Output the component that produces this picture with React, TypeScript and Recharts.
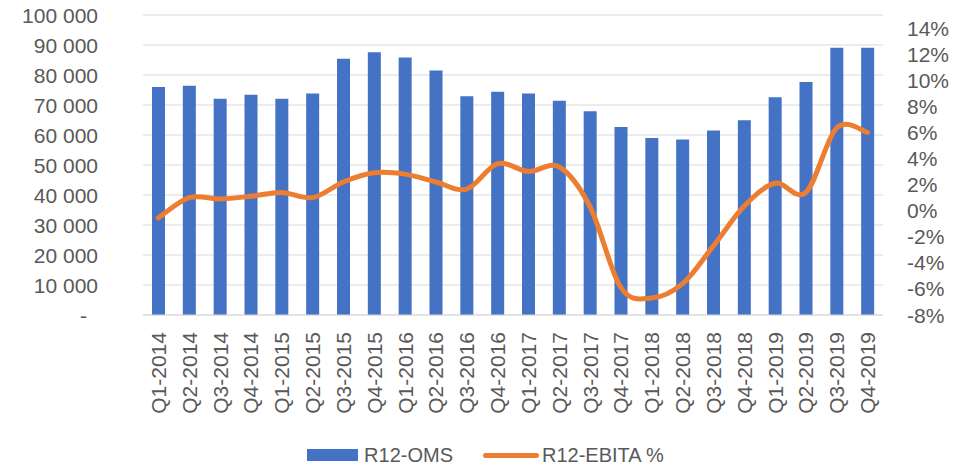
// @ts-nocheck
import { ComposedChart, Bar, Line, XAxis, YAxis, CartesianGrid, Legend } from 'recharts';

const quarters = [
  'Q1-2014', 'Q2-2014', 'Q3-2014', 'Q4-2014',
  'Q1-2015', 'Q2-2015', 'Q3-2015', 'Q4-2015',
  'Q1-2016', 'Q2-2016', 'Q3-2016', 'Q4-2016',
  'Q1-2017', 'Q2-2017', 'Q3-2017', 'Q4-2017',
  'Q1-2018', 'Q2-2018', 'Q3-2018', 'Q4-2018',
  'Q1-2019', 'Q2-2019', 'Q3-2019', 'Q4-2019',
];

// R12-OMS (vänster axel)
const oms = [
  76000, 76400, 72050, 73400,
  72050, 73800, 85400, 87600,
  85800, 81500, 72900, 74400,
  73800, 71400, 67950, 62700,
  59000, 58500, 61500, 64950,
  72600, 77700, 89100, 89100,
];

// R12-EBITA % (höger axel)
const ebita = [
  -0.55, 1.0, 0.9, 1.1,
  1.4, 1.0, 2.2, 2.9,
  2.8, 2.2, 1.65, 3.6,
  3.0, 3.35, 0.3, -5.9,
  -6.7, -5.6, -2.7, 0.35,
  2.1, 1.4, 6.35, 6.0,
];

const leftTicks = [0, 10000, 20000, 30000, 40000, 50000, 60000, 70000, 80000, 90000, 100000];
const rightTicks = [-8, -6, -4, -2, 0, 2, 4, 6, 8, 10, 12, 14];

const data = quarters.map((q, i) => ({ q, oms: oms[i], ebita: ebita[i] }));

const FONT = '"Liberation Sans", Arial, sans-serif';
const TXT = '#595959';
const BLUE = '#4472C4';
const ORANGE = '#ED7D31';

// excel-liknande utjämnad linje (catmull-rom)
function smoothCurve(context) {
  let pts = [];
  return {
    areaStart() {},
    areaEnd() {},
    lineStart() { pts = []; },
    point(x, y) { pts.push([+x, +y]); },
    lineEnd() {
      if (!pts.length) return;
      context.moveTo(pts[0][0], pts[0][1]);
      for (let i = 0; i < pts.length - 1; i++) {
        const p0 = pts[i - 1] || pts[i];
        const p1 = pts[i];
        const p2 = pts[i + 1];
        const p3 = pts[i + 2] || pts[i + 1];
        context.bezierCurveTo(
          p1[0] + (p2[0] - p0[0]) / 6, p1[1] + (p2[1] - p0[1]) / 6,
          p2[0] - (p3[0] - p1[0]) / 6, p2[1] - (p3[1] - p1[1]) / 6,
          p2[0], p2[1]
        );
      }
    },
  };
}

function fmtThousands(v) {
  if (v === 0) return '-';
  return String(v).replace(/\B(?=(\d{3})+(?!\d))/g, ' ');
}

function LeftTick({ x, y, payload }) {
  const isZero = payload.value === 0;
  return (
    <text x={x - 37 - (isZero ? 11 : 0)} y={y} dy="0.36em" textAnchor="end" fill={TXT} fontSize={21} fontFamily={FONT}>
      {fmtThousands(payload.value)}
    </text>
  );
}

function RightTick({ x, y, payload }) {
  return (
    <text x={x + 16} y={y} dy="0.36em" textAnchor="start" fill={TXT} fontSize={21} fontFamily={FONT}>
      {payload.value}%
    </text>
  );
}

function QuarterTick({ x, y, payload }) {
  const ty = y + 9;
  return (
    <text x={x} y={ty} dy="0.36em" textAnchor="end" transform={`rotate(-90, ${x}, ${ty})`} fill={TXT} fontSize={21} fontFamily={FONT}>
      {payload.value}
    </text>
  );
}

function LegendContent() {
  return (
    <div style={{ display: 'flex', justifyContent: 'center', alignItems: 'center', height: 24, paddingLeft: 10, fontFamily: FONT, fontSize: 20, color: TXT }}>
      <span style={{ display: 'inline-block', width: 51, height: 12, background: BLUE, marginRight: 6 }} />
      <span>R12-OMS</span>
      <span style={{ display: 'inline-block', width: 56, height: 5, borderRadius: 3, background: ORANGE, marginLeft: 30, marginRight: 3 }} />
      <span>R12-EBITA %</span>
    </div>
  );
}

export default function App() {
  return (
    <div style={{ position: 'absolute', left: 0, top: 0, background: '#fff' }}>
      <ComposedChart width={961} height={467} data={data} margin={{ top: 15, right: 0, left: 0, bottom: 0 }}>
        <CartesianGrid yAxisId="left" vertical={false} stroke="#D9D9D9" strokeWidth={1} />
        <XAxis
          dataKey="q"
          interval={0}
          height={128}
          tick={<QuarterTick />}
          tickLine={false}
          axisLine={{ stroke: '#D9D9D9', strokeWidth: 1 }}
        />
        <YAxis
          yAxisId="left"
          width={143}
          domain={[0, 100000]}
          ticks={leftTicks}
          tick={<LeftTick />}
          axisLine={false}
          tickLine={false}
        />
        <YAxis
          yAxisId="right"
          orientation="right"
          width={78}
          domain={[-8, 15]}
          ticks={rightTicks}
          tick={<RightTick />}
          axisLine={false}
          tickLine={false}
        />
        <Legend verticalAlign="bottom" height={24} content={<LegendContent />} />
        <Bar yAxisId="left" dataKey="oms" name="R12-OMS" fill={BLUE} barSize={13} isAnimationActive={false} />
        <Line
          yAxisId="right"
          dataKey="ebita"
          name="R12-EBITA %"
          type={smoothCurve}
          stroke={ORANGE}
          strokeWidth={5}
          strokeLinecap="round"
          dot={false}
          activeDot={false}
          isAnimationActive={false}
        />
      </ComposedChart>
    </div>
  );
}
